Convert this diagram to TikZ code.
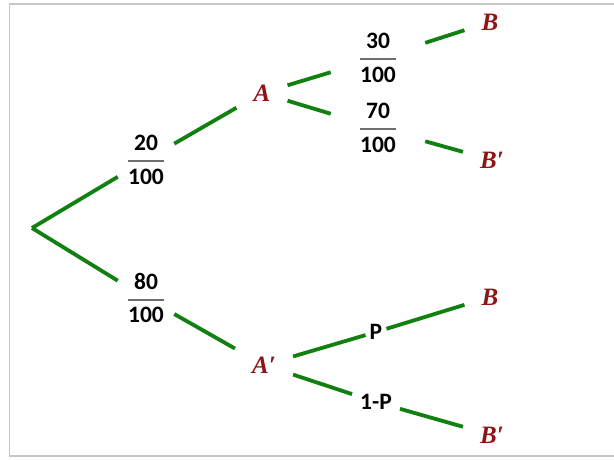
\documentclass[tikz,border=0pt]{standalone}
\usepackage{amsmath}
\usepackage{fontspec}
\newfontfamily\labf{Carlito}
\newfontfamily\letf{Liberation Serif}
\definecolor{brgreen}{RGB}{16,128,16}
\definecolor{ltrred}{RGB}{140,22,22}
\definecolor{barclr}{RGB}{110,110,110}
\newcommand{\pfrac}[2]{$\color{barclr}\genfrac{}{}{1.6pt}{0}{\mbox{\color{black}\labf\bfseries #1}}{\mbox{\color{black}\labf\bfseries #2}}$}
\tikzset{
  branch/.style={draw=brgreen, line width=3.8pt},
  lbl/.style={inner ysep=0pt, font=\fontsize{23.5}{27}\selectfont\labf\bfseries},
  ltr/.style={inner sep=17pt, text=ltrred, font=\fontsize{25}{29}\selectfont\letf\bfseries\itshape}
}
\begin{document}
\begin{tikzpicture}[x=1pt,y=-1pt]
\clip (0,0) rectangle (614,459);
\fill[white] (0,0) rectangle (614,459);
\draw[black!22, line width=1.2pt] (9.5,4) rectangle (640,456);

\coordinate (root) at (32,228);
\node[ltr] (A) at (262,93) {A};
\node[ltr] (A2) at (264,365) {A\char"2032};
\node[ltr] (B1) at (490,22) {B};
\node[ltr] (B2) at (492,160) {B\char"2032};
\node[ltr] (B3) at (490,297) {B};
\node[ltr] (B4) at (492,435) {B\char"2032};

\node[lbl, inner xsep=9pt] (f1) at (146,160) {\pfrac{20}{100}};
\node[lbl, inner xsep=9pt] (f2) at (146,298) {\pfrac{80}{100}};
\node[lbl, inner xsep=28pt] (f3) at (378,58) {\pfrac{30}{100}};
\node[lbl, inner xsep=28pt] (f4) at (378,128) {\pfrac{70}{100}};
\node[lbl, inner xsep=4pt, inner ysep=2pt] (p1) at (376,332) {P};
\node[lbl, inner xsep=8pt, inner ysep=2pt] (p2) at (376,402) {1-P};

\draw[branch] (root) -- (f1);
\draw[branch] (f1) -- (A);
\draw[branch] (root) -- (f2);
\draw[branch] (f2) -- (A2);
\draw[branch] (A) -- (f3);
\draw[branch] (f3) -- (B1);
\draw[branch] (A) -- (f4);
\draw[branch] (f4) -- (B2);
\draw[branch] (A2) -- (p1);
\draw[branch] (p1) -- (B3);
\draw[branch] (A2) -- (p2);
\draw[branch] (p2) -- (B4);
\end{tikzpicture}
\end{document}
